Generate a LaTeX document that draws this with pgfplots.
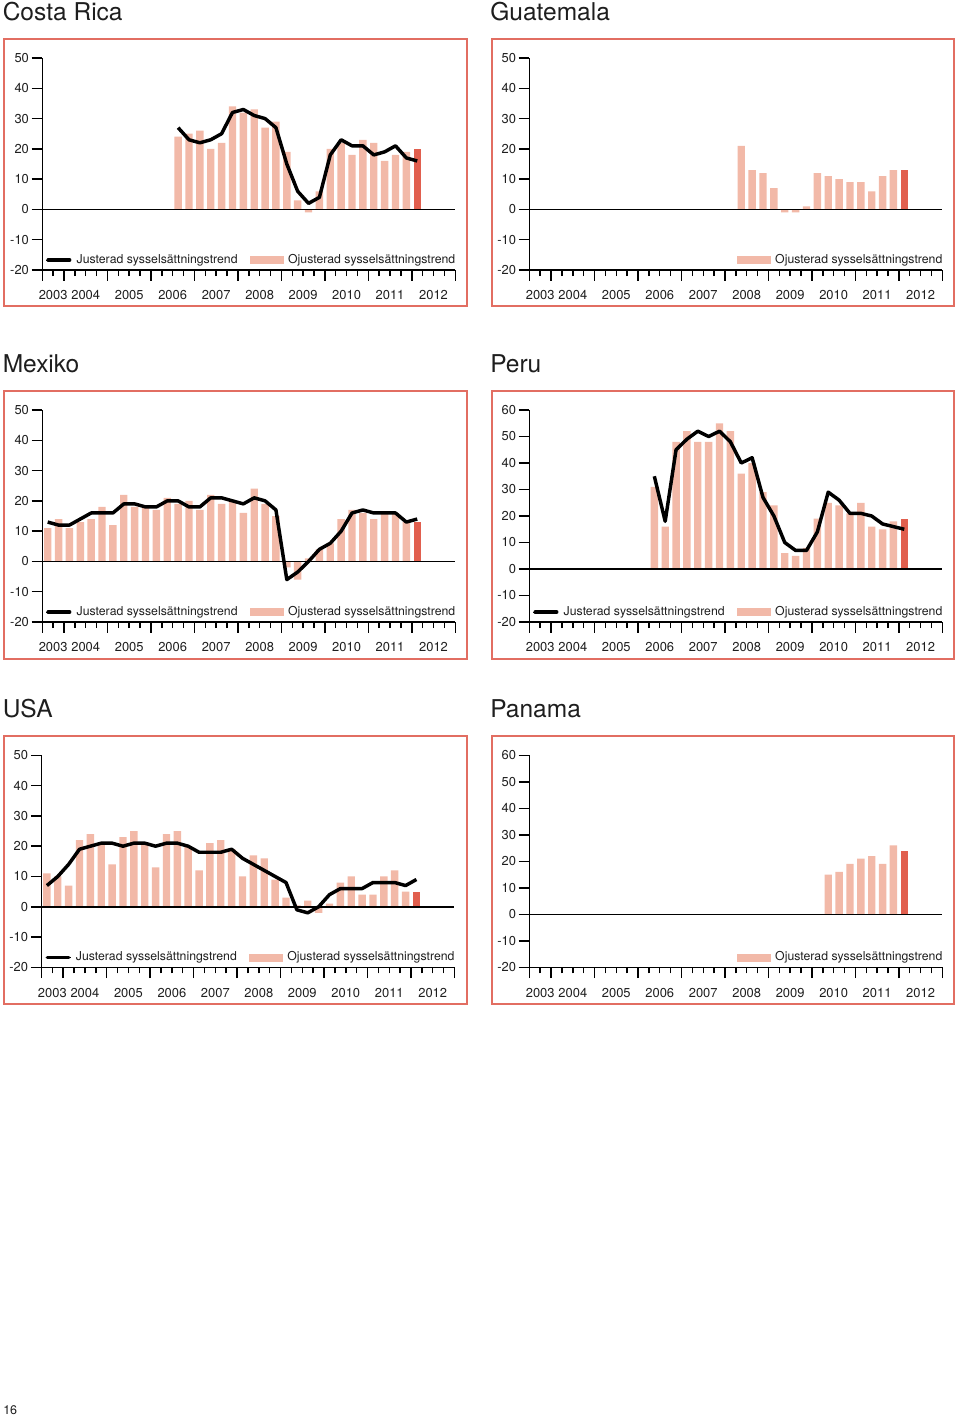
\documentclass[border=0pt]{standalone}
\usepackage{fontspec}
\setmainfont{TeX Gyre Heros}
\usepackage{pgfplots}
\pgfplotsset{compat=1.18}
\definecolor{barc}{RGB}{242,185,168}
\definecolor{lastc}{RGB}{225,95,78}
\definecolor{framec}{RGB}{226,110,98}
\definecolor{txt}{RGB}{30,30,30}
\newcommand{\tickfont}{\fontsize{9.7}{10}\selectfont}
\newcommand{\legfont}{\fontsize{9.2}{10}\selectfont}
\newcommand{\titlefont}{\fontsize{18.4}{20}\selectfont}
\pgfplotsset{
  panel/.style={
    scale only axis, width=309.75pt, height=159pt, anchor=south west,
    xmin=0, xmax=38, ymin=-20, ymax=#1,
    axis x line=bottom, axis y line=left,
    axis line style={-, line width=1.1pt, black},
    xtick={0,2,6,10,14,18,22,26,30,34,38}, xticklabels={},
    minor xtick={0,1,...,38},
    ytick={-20,-10,...,#1},
    /pgf/number format/assume math mode=true,
    tick align=outside,
    major tick length=8pt, minor tick length=4.5pt,
    tick style={line width=1.1pt, black},
    extra x ticks={1,4,8,12,16,20,24,28,32,36},
    extra x tick labels={2003,2004,2005,2006,2007,2008,2009,2010,2011,2012},
    extra x tick style={major tick length=0pt, xticklabel style={yshift=-12pt}},
    tick label style={font=\tickfont, text=txt},
    yticklabel style={xshift=1.5pt},
    clip=false,
    legend style={at={(1,0.047)}, anchor=east, draw=none, fill=none,
      inner sep=0pt, outer sep=0pt, font=\legfont, text=txt,
      legend columns=2, nodes={inner sep=0pt},
      /tikz/every odd column/.style={column sep=3.75pt},
      /tikz/every even column/.style={column sep=9pt}},
  },
  linelegend/.style={legend image code/.code={\path (0pt,0pt) -- (18.75pt,0pt);\draw[black, line width=2.6pt, line cap=round] (1.3pt,0pt) -- (17.45pt,0pt);}},
  barlegend/.style={legend image code/.code={\fill[barc] (0pt,-2.6pt) rectangle (24.75pt,2.6pt);}},
  bars/.style={ybar, bar shift=0pt, bar width=0.68, fill=barc, draw=none, forget plot},
  lastbar/.style={ybar, bar shift=0pt, bar width=0.68, fill=lastc, draw=none, forget plot},
  trend/.style={black, line width=2.6pt, line join=round, mark=none, forget plot},
  zeroline/.style={black, line width=1.1pt, mark=none, forget plot},
}
\begin{document}
\begin{tikzpicture}
\useasboundingbox (0,0) rectangle (720pt,-1062pt);
\begin{scope}[x=0.75pt,y=-0.75pt]
  \foreach \a/\b/\c/\d in {4/39/467/306, 492/39/954/306, 4/391/467/659, 492/391/954/659, 4/736/467/1004, 492/736/954/1004}
    \draw[framec, line width=1.5pt] (\a,\b) rectangle (\c,\d);
  \node[anchor=base west, inner sep=0pt, text=txt, font=\titlefont] at (2.5,21) {Costa Rica};
  \node[anchor=base west, inner sep=0pt, text=txt, font=\titlefont] at (490,21) {Guatemala};
  \node[anchor=base west, inner sep=0pt, text=txt, font=\titlefont] at (2.5,372) {Mexiko};
  \node[anchor=base west, inner sep=0pt, text=txt, font=\titlefont] at (490,372) {Peru};
  \node[anchor=base west, inner sep=0pt, text=txt, font=\titlefont] at (2.5,717) {USA};
  \node[anchor=base west, inner sep=0pt, text=txt, font=\titlefont] at (490,717) {Panama};
  \node[anchor=base west, inner sep=0pt, text=txt, font=\fontsize{9.4}{10}\selectfont] at (3,1414.5) {16};
\end{scope}

% Costa Rica
\begin{axis}[panel=50, at={(31.7pt,-202.5pt)}]
\addlegendimage{linelegend}\addlegendentry{Justerad sysselsättningstrend}
\addlegendimage{barlegend}\addlegendentry{Ojusterad sysselsättningstrend}
\addplot[bars] coordinates {(12.5,24)(13.5,25)(14.5,26)(15.5,20)(16.5,22)(17.5,34)(18.5,32)(19.5,33)(20.5,27)(21.5,29)(22.5,19)(23.5,3)(24.5,-1)(25.5,6)(26.5,20)(27.5,22)(28.5,18)(29.5,23)(30.5,22)(31.5,16)(32.5,18)(33.5,19)};
\addplot[lastbar] coordinates {(34.5,20)};
\addplot[zeroline] coordinates {(0,0)(38,0)};
\addplot[trend] coordinates {(12.5,27)(13.5,23)(14.5,22)(15.5,23)(16.5,25)(17.5,32)(18.5,33)(19.5,31)(20.5,30)(21.5,27)(22.5,15)(23.5,6)(24.5,2)(25.5,4)(26.5,18)(27.5,23)(28.5,21)(29.5,21)(30.5,18)(31.5,19)(32.5,21)(33.5,17)(34.5,16)};
\end{axis}

% Guatemala
\begin{axis}[panel=50, at={(397pt,-202.5pt)}]
\addlegendimage{barlegend}\addlegendentry{Ojusterad sysselsättningstrend}
\addplot[bars] coordinates {(19.5,21)(20.5,13)(21.5,12)(22.5,7)(23.5,-1)(24.5,-1)(25.5,1)(26.5,12)(27.5,11)(28.5,10)(29.5,9)(30.5,9)(31.5,6)(32.5,11)(33.5,13)};
\addplot[lastbar] coordinates {(34.5,13)};
\addplot[zeroline] coordinates {(0,0)(38,0)};
\end{axis}

% Mexiko
\begin{axis}[panel=50, at={(31.7pt,-466.5pt)}]
\addlegendimage{linelegend}\addlegendentry{Justerad sysselsättningstrend}
\addlegendimage{barlegend}\addlegendentry{Ojusterad sysselsättningstrend}
\addplot[bars] coordinates {(0.5,11)(1.5,14)(2.5,11)(3.5,13)(4.5,14)(5.5,18)(6.5,12)(7.5,22)(8.5,18)(9.5,18)(10.5,17)(11.5,21)(12.5,19)(13.5,20)(14.5,17)(15.5,22)(16.5,19)(17.5,20)(18.5,16)(19.5,24)(20.5,19)(21.5,15)(22.5,-2)(23.5,-6)(24.5,1)(25.5,4)(26.5,6)(27.5,14)(28.5,17)(29.5,16)(30.5,14)(31.5,16)(32.5,16)(33.5,13)};
\addplot[lastbar] coordinates {(34.5,13)};
\addplot[zeroline] coordinates {(0,0)(38,0)};
\addplot[trend] coordinates {(0.5,13)(1.5,12)(2.5,12)(3.5,14)(4.5,16)(5.5,16)(6.5,16)(7.5,19)(8.5,19)(9.5,18)(10.5,18)(11.5,20)(12.5,20)(13.5,18)(14.5,18)(15.5,21)(16.5,21)(17.5,20)(18.5,19)(19.5,21)(20.5,20)(21.5,17)(22.5,-6)(23.5,-3.5)(24.5,0)(25.5,4)(26.5,6)(27.5,10)(28.5,16)(29.5,17)(30.5,16)(31.5,16)(32.5,16)(33.5,13)(34.5,14)};
\end{axis}

% Peru
\begin{axis}[panel=60, at={(397pt,-466.5pt)}]
\addlegendimage{linelegend}\addlegendentry{Justerad sysselsättningstrend}
\addlegendimage{barlegend}\addlegendentry{Ojusterad sysselsättningstrend}
\addplot[bars] coordinates {(11.5,31)(12.5,16)(13.5,48)(14.5,52)(15.5,48)(16.5,48)(17.5,55)(18.5,52)(19.5,36)(20.5,40)(21.5,29)(22.5,24)(23.5,6)(24.5,5)(25.5,8)(26.5,19)(27.5,25)(28.5,24)(29.5,21)(30.5,25)(31.5,16)(32.5,15)(33.5,18)};
\addplot[lastbar] coordinates {(34.5,19)};
\addplot[zeroline] coordinates {(0,0)(38,0)};
\addplot[trend] coordinates {(11.5,35)(12.5,18)(13.5,45)(14.5,49)(15.5,52)(16.5,50)(17.5,52)(18.5,48)(19.5,40)(20.5,42)(21.5,27)(22.5,20)(23.5,10)(24.5,7)(25.5,7)(26.5,14)(27.5,29)(28.5,26)(29.5,21)(30.5,21)(31.5,20)(32.5,17)(33.5,16)(34.5,15)};
\end{axis}

% USA
\begin{axis}[panel=50, at={(31.1pt,-725.5pt)}]
\addlegendimage{linelegend}\addlegendentry{Justerad sysselsättningstrend}
\addlegendimage{barlegend}\addlegendentry{Ojusterad sysselsättningstrend}
\addplot[bars] coordinates {(0.5,11)(1.5,10)(2.5,7)(3.5,22)(4.5,24)(5.5,21)(6.5,14)(7.5,23)(8.5,25)(9.5,21)(10.5,13)(11.5,24)(12.5,25)(13.5,20)(14.5,12)(15.5,21)(16.5,22)(17.5,19)(18.5,10)(19.5,17)(20.5,16)(21.5,9)(22.5,3)(23.5,0.5)(24.5,2)(25.5,-2)(26.5,1)(27.5,8)(28.5,10)(29.5,4)(30.5,4)(31.5,10)(32.5,12)(33.5,5)};
\addplot[lastbar] coordinates {(34.5,5)};
\addplot[zeroline] coordinates {(0,0)(38,0)};
\addplot[trend] coordinates {(0.5,7)(1.5,10)(2.5,14)(3.5,19)(4.5,20)(5.5,21)(6.5,21)(7.5,20)(8.5,21)(9.5,21)(10.5,20)(11.5,21)(12.5,21)(13.5,20)(14.5,18)(15.5,18)(16.5,18)(17.5,19)(18.5,16)(19.5,14)(20.5,12)(21.5,10)(22.5,8)(23.5,-1)(24.5,-2)(25.5,0)(26.5,4)(27.5,6)(28.5,6)(29.5,6)(30.5,8)(31.5,8)(32.5,8)(33.5,7)(34.5,9)};
\end{axis}

% Panama
\begin{axis}[panel=60, at={(397pt,-725.5pt)}]
\addlegendimage{barlegend}\addlegendentry{Ojusterad sysselsättningstrend}
\addplot[bars] coordinates {(27.5,15)(28.5,16)(29.5,19)(30.5,21)(31.5,22)(32.5,19)(33.5,26)};
\addplot[lastbar] coordinates {(34.5,24)};
\addplot[zeroline] coordinates {(0,0)(38,0)};
\end{axis}
\end{tikzpicture}
\end{document}
